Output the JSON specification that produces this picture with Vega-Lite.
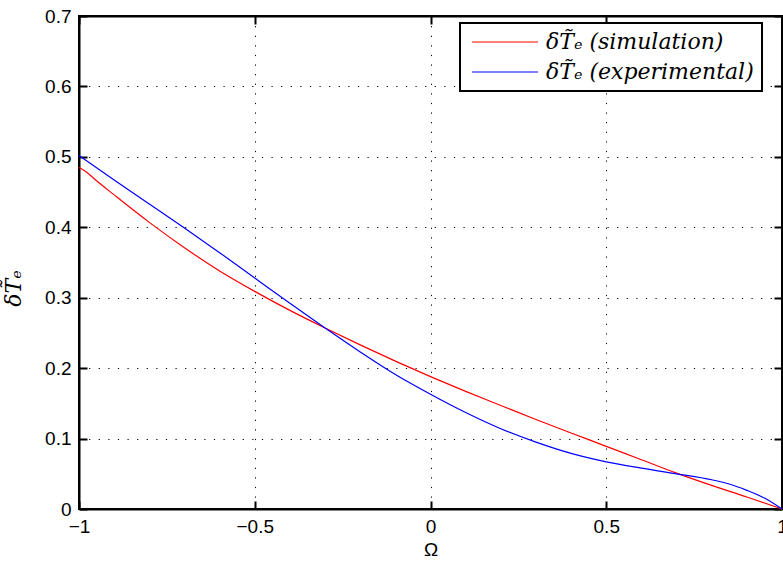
{
  "$schema": "https://vega.github.io/schema/vega-lite/v6.json",
  "width": 703,
  "height": 493,
  "autosize": {"type": "none"},
  "padding": {"left": 79, "top": 16, "right": 1, "bottom": 56},
  "background": "white",
  "config": {
    "view": {"stroke": "black", "strokeWidth": 2},
    "axis": {
      "labelFont": "Liberation Sans",
      "labelFontSize": 19,
      "labelColor": "black",
      "labelFlush": false,
      "labelOverlap": false,
      "titleColor": "black",
      "domainColor": "black",
      "domainWidth": 2,
      "tickColor": "black",
      "tickWidth": 2,
      "tickSize": -8,
      "labelPadding": 16,
      "gridColor": "black",
      "gridOpacity": 1,
      "gridWidth": 1,
      "gridDash": [1.2, 8.4]
    },
    "legend": {
      "orient": "none",
      "legendX": 381,
      "legendY": 7,
      "fillColor": "white",
      "strokeColor": "black",
      "strokeWidth": 2,
      "padding": 8,
      "symbolType": "M-6.6,0H6.6",
      "symbolSize": 100,
      "symbolOffset": 26,
      "symbolStrokeWidth": 1.2,
      "labelFont": "DejaVu Serif",
      "labelFontStyle": "italic",
      "labelFontSize": 22,
      "labelColor": "black",
      "labelOffset": 30,
      "labelLimit": 400,
      "rowPadding": 8
    }
  },
  "data": {
    "values": [
      {"omega": -1.0, "value": 0.485, "series": "δT̃ₑ (simulation)"},
      {"omega": -0.98, "value": 0.479, "series": "δT̃ₑ (simulation)"},
      {"omega": -0.95, "value": 0.466, "series": "δT̃ₑ (simulation)"},
      {"omega": -0.9, "value": 0.446, "series": "δT̃ₑ (simulation)"},
      {"omega": -0.8, "value": 0.407, "series": "δT̃ₑ (simulation)"},
      {"omega": -0.7, "value": 0.371, "series": "δT̃ₑ (simulation)"},
      {"omega": -0.6, "value": 0.338, "series": "δT̃ₑ (simulation)"},
      {"omega": -0.5, "value": 0.309, "series": "δT̃ₑ (simulation)"},
      {"omega": -0.4, "value": 0.282, "series": "δT̃ₑ (simulation)"},
      {"omega": -0.3, "value": 0.257, "series": "δT̃ₑ (simulation)"},
      {"omega": -0.2, "value": 0.233, "series": "δT̃ₑ (simulation)"},
      {"omega": -0.1, "value": 0.21, "series": "δT̃ₑ (simulation)"},
      {"omega": 0.0, "value": 0.188, "series": "δT̃ₑ (simulation)"},
      {"omega": 0.1, "value": 0.167, "series": "δT̃ₑ (simulation)"},
      {"omega": 0.2, "value": 0.147, "series": "δT̃ₑ (simulation)"},
      {"omega": 0.3, "value": 0.127, "series": "δT̃ₑ (simulation)"},
      {"omega": 0.4, "value": 0.108, "series": "δT̃ₑ (simulation)"},
      {"omega": 0.5, "value": 0.089, "series": "δT̃ₑ (simulation)"},
      {"omega": 0.6, "value": 0.07, "series": "δT̃ₑ (simulation)"},
      {"omega": 0.7, "value": 0.051, "series": "δT̃ₑ (simulation)"},
      {"omega": 0.8, "value": 0.0335, "series": "δT̃ₑ (simulation)"},
      {"omega": 0.9, "value": 0.017, "series": "δT̃ₑ (simulation)"},
      {"omega": 1.0, "value": 0.0, "series": "δT̃ₑ (simulation)"},
      {"omega": -1.0, "value": 0.502, "series": "δT̃ₑ (experimental)"},
      {"omega": -0.9, "value": 0.467, "series": "δT̃ₑ (experimental)"},
      {"omega": -0.8, "value": 0.433, "series": "δT̃ₑ (experimental)"},
      {"omega": -0.7, "value": 0.399, "series": "δT̃ₑ (experimental)"},
      {"omega": -0.6, "value": 0.364, "series": "δT̃ₑ (experimental)"},
      {"omega": -0.5, "value": 0.328, "series": "δT̃ₑ (experimental)"},
      {"omega": -0.4, "value": 0.292, "series": "δT̃ₑ (experimental)"},
      {"omega": -0.3, "value": 0.257, "series": "δT̃ₑ (experimental)"},
      {"omega": -0.2, "value": 0.223, "series": "δT̃ₑ (experimental)"},
      {"omega": -0.1, "value": 0.191, "series": "δT̃ₑ (experimental)"},
      {"omega": 0.0, "value": 0.163, "series": "δT̃ₑ (experimental)"},
      {"omega": 0.1, "value": 0.137, "series": "δT̃ₑ (experimental)"},
      {"omega": 0.2, "value": 0.114, "series": "δT̃ₑ (experimental)"},
      {"omega": 0.3, "value": 0.095, "series": "δT̃ₑ (experimental)"},
      {"omega": 0.4, "value": 0.079, "series": "δT̃ₑ (experimental)"},
      {"omega": 0.5, "value": 0.067, "series": "δT̃ₑ (experimental)"},
      {"omega": 0.6, "value": 0.058, "series": "δT̃ₑ (experimental)"},
      {"omega": 0.7, "value": 0.05, "series": "δT̃ₑ (experimental)"},
      {"omega": 0.8, "value": 0.0415, "series": "δT̃ₑ (experimental)"},
      {"omega": 0.85, "value": 0.0355, "series": "δT̃ₑ (experimental)"},
      {"omega": 0.9, "value": 0.0265, "series": "δT̃ₑ (experimental)"},
      {"omega": 0.95, "value": 0.0155, "series": "δT̃ₑ (experimental)"},
      {"omega": 1.0, "value": 0.0, "series": "δT̃ₑ (experimental)"}
    ]
  },
  "layer": [
    {
      "mark": {"type": "line", "strokeWidth": 1.2, "interpolate": "monotone"},
      "encoding": {
        "x": {
          "field": "omega", "type": "quantitative",
          "scale": {"domain": [-1, 1], "nice": false, "zero": false},
          "axis": {
            "orient": "bottom",
            "values": [-1, -0.5, 0, 0.5, 1],
            "format": "~g",
            "grid": true,
            "title": "Ω",
            "titleFont": "Liberation Sans",
            "titleFontSize": 19,
            "titleFontWeight": "normal",
            "titlePadding": 4
          }
        },
        "y": {
          "field": "value", "type": "quantitative",
          "scale": {"domain": [0, 0.7], "nice": false},
          "axis": {
            "orient": "left",
            "values": [0, 0.1, 0.2, 0.3, 0.4, 0.5, 0.6, 0.7],
            "format": "~g",
            "grid": true,
            "title": "δT̃ₑ",
            "titleFont": "DejaVu Serif",
            "titleFontStyle": "italic",
            "titleFontSize": 22,
            "titleFontWeight": "normal",
            "titleX": -66,
            "titleY": 272,
            "titleAngle": -90,
            "titleAlign": "center",
            "titleBaseline": "middle"
          }
        },
        "color": {
          "field": "series", "type": "nominal",
          "scale": {"domain": ["δT̃ₑ (simulation)", "δT̃ₑ (experimental)"], "range": ["#ff0000", "#0000ff"]},
          "legend": {
            "title": null,
            "encode": {"symbols": {"update": {"stroke": {"scale": "color", "field": "value"}, "strokeWidth": {"value": 1.2}}}}
          }
        }
      }
    },
    {
      "mark": {"type": "point", "opacity": 0},
      "encoding": {
        "x": {
          "field": "omega", "type": "quantitative",
          "axis": {"orient": "top", "values": [-1, -0.5, 0, 0.5, 1], "labels": false, "grid": false, "title": null}
        },
        "y": {
          "field": "value", "type": "quantitative",
          "axis": {"orient": "right", "values": [0, 0.1, 0.2, 0.3, 0.4, 0.5, 0.6, 0.7], "labels": false, "grid": false, "title": null}
        }
      }
    }
  ],
  "resolve": {"axis": {"x": "independent", "y": "independent"}}
}
